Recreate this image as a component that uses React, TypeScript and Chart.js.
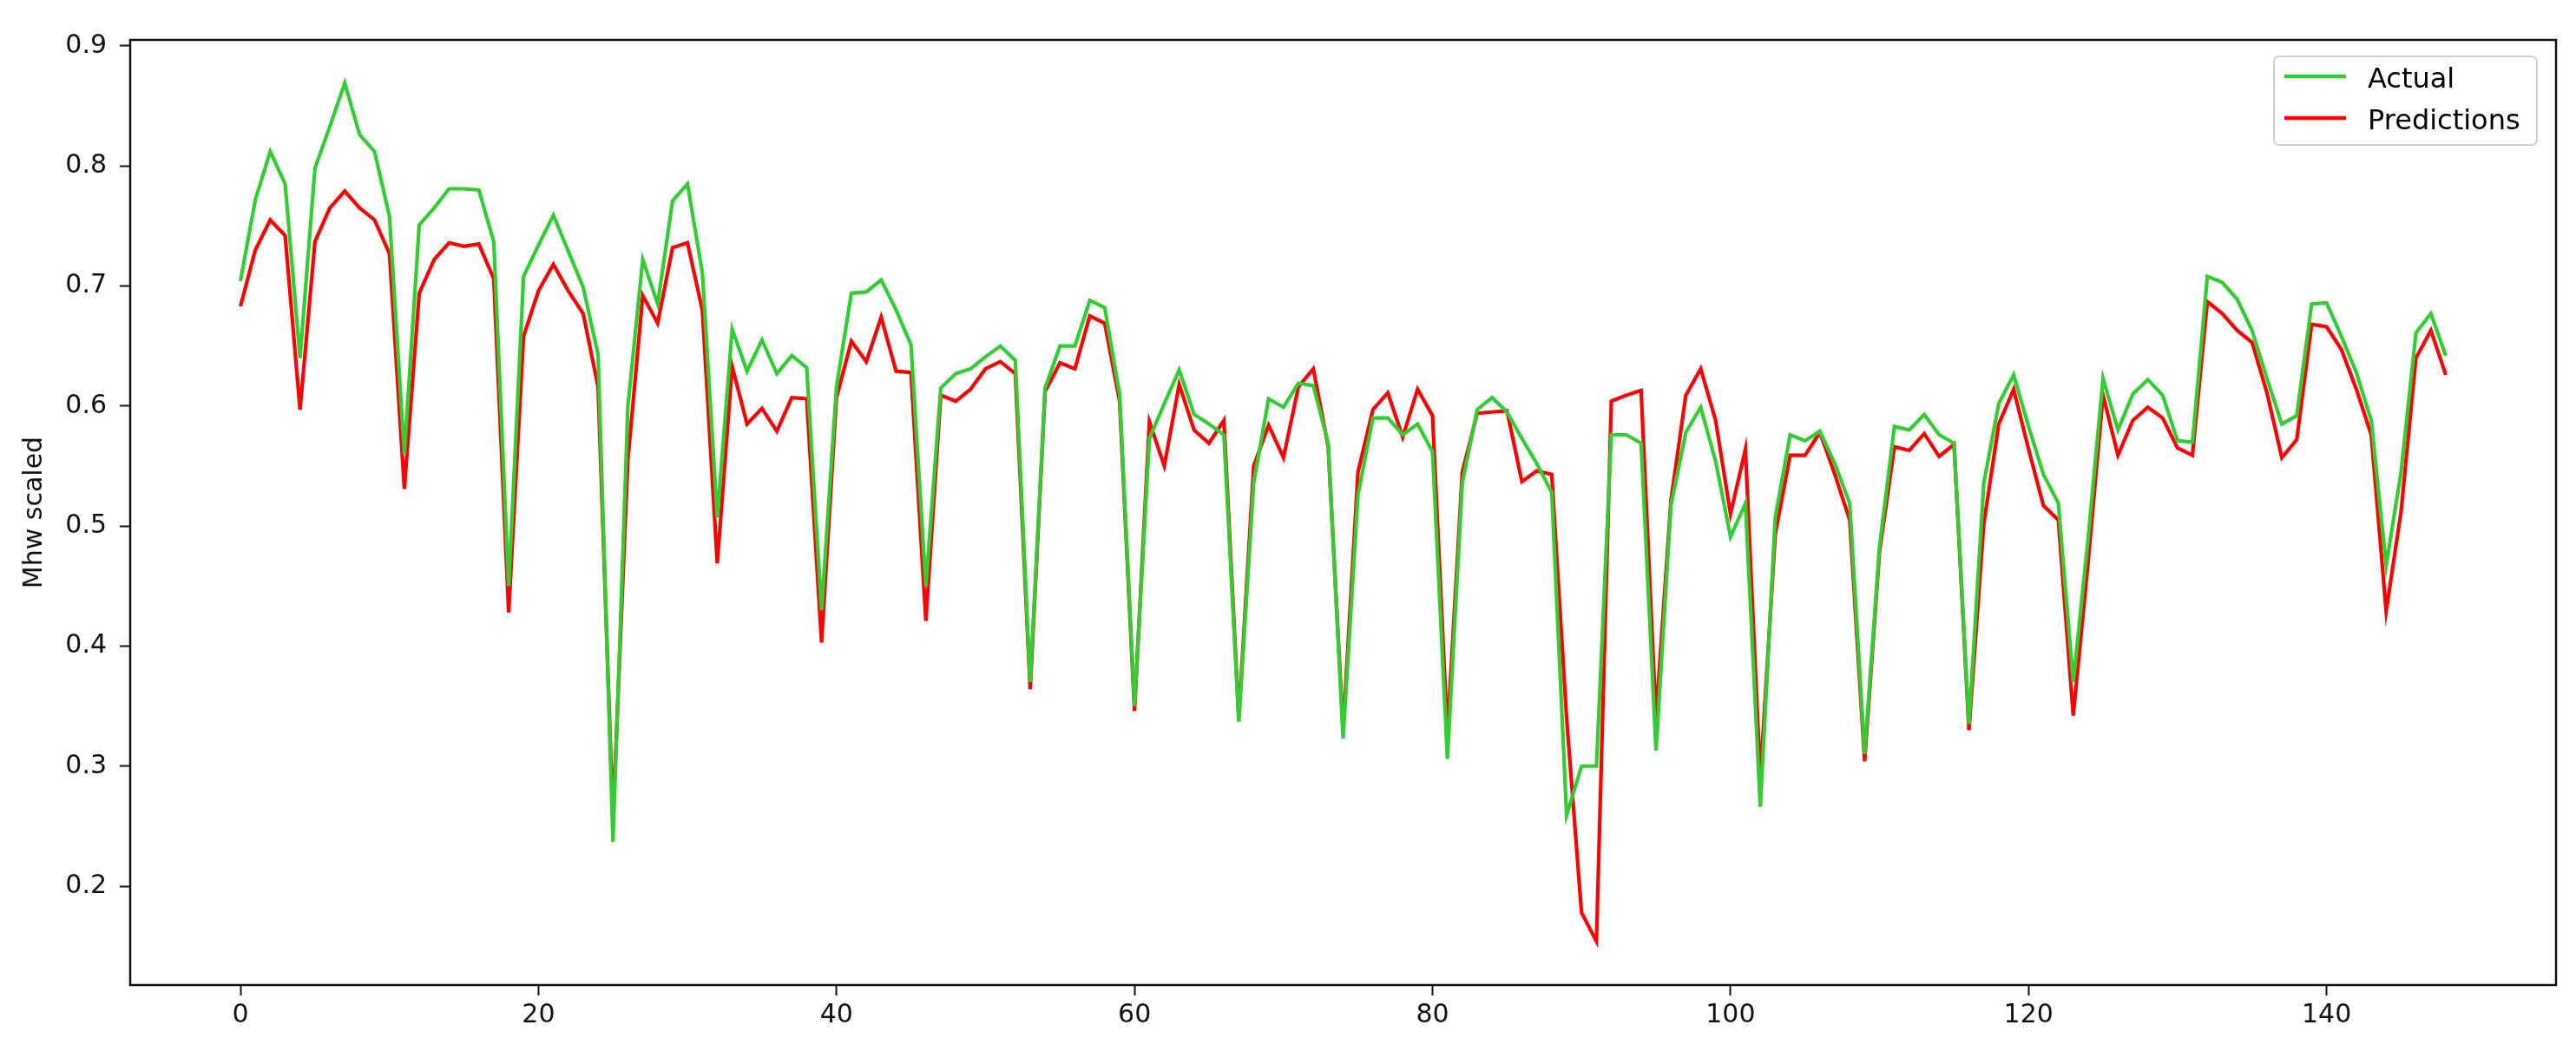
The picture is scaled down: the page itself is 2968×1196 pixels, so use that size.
import React, { useEffect, useRef } from 'react';
import { Chart, registerables } from 'chart.js';

Chart.register(...registerables);

const W = 2968;
const H = 1196;

const seriesNames = ['Actual', 'Predictions'];
const seriesColors = ['#32cd32', '#ff0000'];

const actual = [
  0.704, 0.772, 0.812, 0.785, 0.640, 0.798, 0.833, 0.869, 0.826, 0.812,
  0.758, 0.560, 0.751, 0.765, 0.781, 0.781, 0.780, 0.737, 0.450, 0.708,
  0.734, 0.759, 0.729, 0.699, 0.643, 0.237, 0.600, 0.722, 0.685, 0.771,
  0.785, 0.711, 0.507, 0.664, 0.629, 0.655, 0.627, 0.642, 0.632, 0.430,
  0.616, 0.694, 0.695, 0.705, 0.680, 0.651, 0.450, 0.615, 0.627, 0.631,
  0.641, 0.650, 0.638, 0.370, 0.615, 0.650, 0.650, 0.688, 0.682, 0.610,
  0.350, 0.573, 0.602, 0.630, 0.593, 0.585, 0.576, 0.337, 0.536, 0.606,
  0.599, 0.619, 0.617, 0.569, 0.323, 0.526, 0.590, 0.590, 0.576, 0.585,
  0.562, 0.306, 0.536, 0.597, 0.607, 0.595, 0.573, 0.552, 0.528, 0.259,
  0.300, 0.300, 0.576, 0.576, 0.569, 0.313, 0.517, 0.578, 0.599, 0.554,
  0.491, 0.519, 0.266, 0.507, 0.576, 0.571, 0.579, 0.552, 0.519, 0.310,
  0.483, 0.583, 0.580, 0.593, 0.576, 0.569, 0.335, 0.536, 0.602, 0.626,
  0.583, 0.543, 0.519, 0.370, 0.490, 0.623, 0.580, 0.610, 0.622, 0.609,
  0.571, 0.570, 0.708, 0.703, 0.689, 0.663, 0.623, 0.585, 0.592, 0.685,
  0.686, 0.658, 0.628, 0.588, 0.467, 0.545, 0.661, 0.677, 0.642,
];

const predictions = [
  0.683, 0.730, 0.755, 0.742, 0.597, 0.737, 0.765, 0.779, 0.765, 0.755,
  0.727, 0.531, 0.694, 0.722, 0.736, 0.733, 0.735, 0.706, 0.428, 0.658,
  0.696, 0.718, 0.696, 0.677, 0.616, 0.257, 0.555, 0.692, 0.669, 0.732,
  0.736, 0.680, 0.469, 0.633, 0.585, 0.598, 0.579, 0.607, 0.606, 0.403,
  0.607, 0.654, 0.637, 0.674, 0.629, 0.628, 0.421, 0.609, 0.604, 0.614,
  0.631, 0.637, 0.627, 0.364, 0.612, 0.636, 0.631, 0.675, 0.669, 0.604,
  0.346, 0.587, 0.550, 0.618, 0.580, 0.569, 0.588, 0.340, 0.550, 0.584,
  0.557, 0.616, 0.631, 0.566, 0.330, 0.545, 0.597, 0.611, 0.574, 0.614,
  0.592, 0.327, 0.545, 0.594, 0.595, 0.596, 0.537, 0.546, 0.543, 0.340,
  0.178, 0.154, 0.604, 0.609, 0.613, 0.340, 0.521, 0.609, 0.631, 0.588,
  0.510, 0.564, 0.290, 0.493, 0.559, 0.559, 0.578, 0.543, 0.505, 0.304,
  0.479, 0.566, 0.563, 0.577, 0.558, 0.568, 0.330, 0.502, 0.585, 0.614,
  0.564, 0.517, 0.505, 0.342, 0.470, 0.609, 0.559, 0.588, 0.599, 0.590,
  0.565, 0.559, 0.687, 0.677, 0.663, 0.653, 0.611, 0.557, 0.572, 0.668,
  0.666, 0.647, 0.614, 0.576, 0.429, 0.512, 0.640, 0.663, 0.626,
];

const xTicks = [0, 20, 40, 60, 80, 100, 120, 140];
const yTicks = [0.2, 0.3, 0.4, 0.5, 0.6, 0.7, 0.8, 0.9];
const yTitle = 'Mhw scaled';

const FONT = 'DejaVu Sans';

export default function App() {
  const ref = useRef<HTMLCanvasElement | null>(null);

  useEffect(() => {
    document.body.style.margin = '0';
    document.body.style.overflow = 'hidden';
    const canvas = ref.current;
    if (!canvas) return;

    const framePlugin = {
      id: 'frame',
      afterDatasetsDraw(chart: any) {
        const { ctx, chartArea: a } = chart;
        ctx.save();
        ctx.strokeStyle = '#111';
        ctx.lineWidth = 2.5;
        ctx.strokeRect(a.left, a.top, a.right - a.left, a.bottom - a.top);
        ctx.restore();
      },
    };

    const legendPlugin = {
      id: 'mplLegend',
      afterDraw(chart: any) {
        const { ctx, chartArea: a } = chart;
        const boxW = 303;
        const boxH = 102;
        const x0 = a.right - 22 - boxW;
        const y0 = a.top + 19;
        ctx.save();
        ctx.beginPath();
        const r = 6;
        ctx.moveTo(x0 + r, y0);
        ctx.lineTo(x0 + boxW - r, y0);
        ctx.arcTo(x0 + boxW, y0, x0 + boxW, y0 + r, r);
        ctx.lineTo(x0 + boxW, y0 + boxH - r);
        ctx.arcTo(x0 + boxW, y0 + boxH, x0 + boxW - r, y0 + boxH, r);
        ctx.lineTo(x0 + r, y0 + boxH);
        ctx.arcTo(x0, y0 + boxH, x0, y0 + boxH - r, r);
        ctx.lineTo(x0, y0 + r);
        ctx.arcTo(x0, y0, x0 + r, y0, r);
        ctx.closePath();
        ctx.fillStyle = 'rgba(255,255,255,0.8)';
        ctx.fill();
        ctx.strokeStyle = '#d0d0d0';
        ctx.lineWidth = 2;
        ctx.stroke();
        const rows = [y0 + 23, y0 + 71];
        seriesNames.forEach((name, i) => {
          const yy = rows[i];
          ctx.beginPath();
          ctx.strokeStyle = seriesColors[i];
          ctx.lineWidth = 4.5;
          ctx.moveTo(x0 + 12, yy);
          ctx.lineTo(x0 + 83, yy);
          ctx.stroke();
          ctx.fillStyle = '#000';
          ctx.font = `32px "${FONT}"`;
          ctx.textBaseline = 'alphabetic';
          ctx.textAlign = 'left';
          ctx.fillText(name, x0 + 108, yy + 12.5);
        });
        ctx.restore();
      },
    };

    const chart = new Chart(canvas, {
      type: 'line',
      data: {
        datasets: [
          {
            label: seriesNames[0],
            data: actual.map((v, i) => ({ x: i, y: v })),
            borderColor: seriesColors[0],
            backgroundColor: seriesColors[0],
            borderWidth: 4.2,
            pointRadius: 0,
            tension: 0,
            fill: false,
          },
          {
            label: seriesNames[1],
            data: predictions.map((v, i) => ({ x: i, y: v })),
            borderColor: seriesColors[1],
            backgroundColor: seriesColors[1],
            borderWidth: 4.2,
            pointRadius: 0,
            tension: 0,
            fill: false,
          },
        ],
      },
      options: {
        animation: false,
        responsive: false,
        devicePixelRatio: 1,
        layout: { padding: { left: 0, top: 46, right: 23, bottom: 0 } },
        plugins: {
          legend: { display: false },
          tooltip: { enabled: false },
        },
        scales: {
          x: {
            type: 'linear',
            min: -7.4,
            max: 155.4,
            afterBuildTicks: (s: any) => {
              s.ticks = xTicks.map((v) => ({ value: v }));
            },
            afterFit: (s: any) => {
              s.height = 61;
            },
            ticks: {
              color: '#111',
              font: { family: FONT, size: 30 },
              padding: 5,
              maxRotation: 0,
              autoSkip: false,
              callback: (v: any) => String(v),
            },
            grid: {
              drawOnChartArea: false,
              drawTicks: true,
              tickLength: 12,
              tickWidth: 2,
              tickColor: '#111',
            },
            border: { display: false },
          },
          y: {
            type: 'linear',
            min: 0.1176,
            max: 0.905,
            afterBuildTicks: (s: any) => {
              s.ticks = yTicks.map((v) => ({ value: v }));
            },
            afterFit: (s: any) => {
              s.width = 150;
            },
            ticks: {
              color: '#111',
              font: { family: FONT, size: 30 },
              padding: 15,
              autoSkip: false,
              callback: (v: any) => Number(v).toFixed(1),
            },
            grid: {
              drawOnChartArea: false,
              drawTicks: true,
              tickLength: 12,
              tickWidth: 2,
              tickColor: '#111',
            },
            border: { display: false },
            title: {
              display: true,
              text: yTitle,
              color: '#111',
              font: { family: FONT, size: 30 },
              padding: { top: 22, bottom: 0 },
            },
          },
        },
      },
      plugins: [framePlugin, legendPlugin],
    } as any);

    return () => chart.destroy();
  }, []);

  return (
    <div style={{ width: W, height: H, position: 'relative', background: '#fff' }}>
      <canvas ref={ref} width={W} height={H} style={{ display: 'block', width: W, height: H }} />
    </div>
  );
}
